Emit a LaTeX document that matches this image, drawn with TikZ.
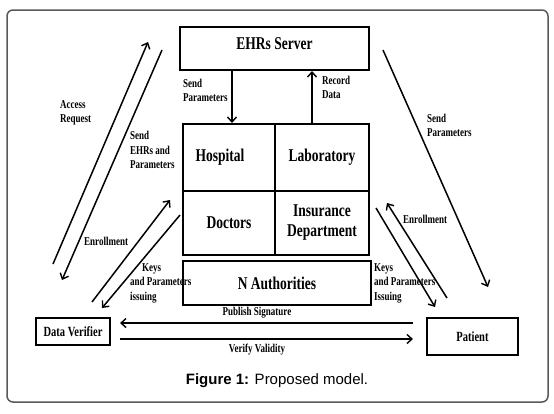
\documentclass[tikz,border=0pt]{standalone}
\usepackage{fontspec}
\setmainfont{Liberation Serif}
\newfontfamily\diagfont[FakeStretch=0.75]{Liberation Serif}
\newfontfamily\capfont{Liberation Sans}
\usetikzlibrary{arrows.meta}
\begin{document}
\begin{tikzpicture}[x=1pt,y=-1pt,
  box/.style={draw, line width=2pt, inner sep=0pt, align=center, font=\diagfont\bfseries\fontsize{18}{20}\selectfont},
  smallbox/.style={box, font=\diagfont\bfseries\fontsize{14}{16}\selectfont},
  boxtext/.style={font=\diagfont\bfseries\fontsize{18}{20}\selectfont},
  arr/.style={line width=1.5pt, -{Straight Barb[length=5pt,width=9pt,line width=1.4pt]}},
  lbl/.style={font=\diagfont\bfseries\fontsize{12}{14.5}\selectfont, align=left, inner sep=0pt, anchor=west},
  clbl/.style={lbl, anchor=center, align=center}
]
\useasboundingbox[fill=white] (0,0) rectangle (554,413);
\draw[black!65, line width=1.5pt, rounded corners=6pt] (7,10) rectangle (548,402);

% boxes
\node[box, minimum width=189pt, minimum height=43pt,
      label={[boxtext, yshift=5pt]center:EHRs Server}] (ehr) at (274.5,48.5) {};
\node[box, minimum width=92pt, minimum height=67pt,
      label={[boxtext, xshift=-9pt]center:Hospital}] (hosp) at (229,157.5) {};
\node[box, minimum width=94pt, minimum height=67pt] (lab) at (322,157.5) {Laboratory};
\node[box, minimum width=92pt, minimum height=64pt] (doc) at (229,223) {Doctors};
\node[box, minimum width=94pt, minimum height=64pt] (ins) at (322,223) {Insurance\\Department};
\node[box, minimum width=188pt, minimum height=44pt] (auth) at (277,283) {N Authorities};
\node[smallbox, minimum width=74pt, minimum height=27pt] (dv) at (73,331.5) {Data Verifier};
\node[smallbox, minimum width=91pt, minimum height=37pt] (pat) at (472.5,336.5) {Patient};

% free ends
\coordinate (a1) at (53,264);  \coordinate (a2) at (148,42);
\coordinate (b1) at (162,50);  \coordinate (b2) at (62,280);
\coordinate (c1) at (92,302);  \coordinate (c2) at (170,200);
\coordinate (d1) at (180,215); \coordinate (d2) at (102,308);
\coordinate (e1) at (376,208); \coordinate (e2) at (435,307);
\coordinate (f1) at (447,298); \coordinate (f2) at (387,203);
\coordinate (g1) at (383,50);  \coordinate (g2) at (488,287);
\coordinate (p1) at (413,323); \coordinate (p2) at (120,323);
\coordinate (v1) at (120,339); \coordinate (v2) at (413,339);

% connectors
\draw[arr] (ehr.south -| 232,0) -- (hosp.north -| 232,0);
\draw[arr] (lab.north -| 312,0) -- (ehr.south -| 312,0);
\draw[arr] (a1) -- (a2);
\draw[arr] (b1) -- (b2);
\draw[arr] (c1) -- (c2);
\draw[arr] (d1) -- (d2);
\draw[arr] (e1) -- (e2);
\draw[arr] (f1) -- (f2);
\draw[arr] (g1) -- (g2);
\draw[arr] (p1) -- (p2);
\draw[arr] (v1) -- (v2);

% labels
\node[lbl] (l1) at (183,90.5) {Send\\Parameters};
\node[lbl] (l2) at (322,87.5) {Record\\Data};
\node[lbl] (l3) at (60,113) {Access\\Request};
\node[lbl] (l4) at (130,150) {Send\\EHRs and\\Parameters};
\node[lbl] (l5) at (84,241) {Enrollment};
\node[lbl] (l6) at (130,283) {\hspace*{12pt}Keys\\and Parameters\\issuing};
\node[lbl] (l7) at (374,283) {Keys\\and Parameters\\Issuing};
\node[lbl] (l8) at (403,219) {Enrollment};
\node[lbl] (l9) at (427,125.5) {Send\\Parameters};
\node[clbl] (l10) at (257,313) {Publish Signature};
\node[clbl] (l11) at (257,350) {Verify Validity};

% caption
\node[font=\capfont\fontsize{15}{18}\selectfont, inner sep=0pt] (cap) at (277,381) {\textbf{Figure 1:} Proposed model.};
\end{tikzpicture}
\end{document}
